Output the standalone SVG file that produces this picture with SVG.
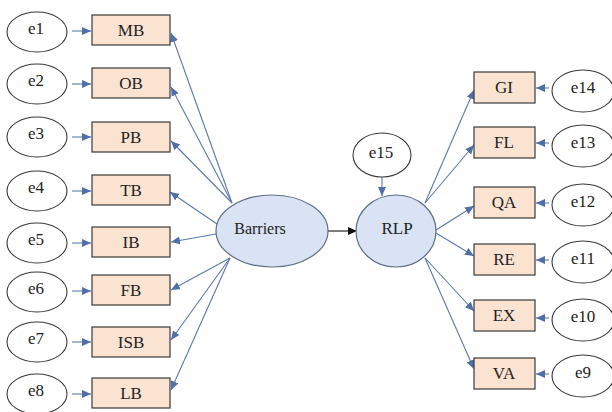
<svg xmlns="http://www.w3.org/2000/svg" width="612" height="412" viewBox="0 0 612 412">
<style>
.box{fill:#fbe3d2;stroke:#3a3a3a;stroke-width:1.2}
.err{fill:#ffffff;stroke:#3a3a3a;stroke-width:1.1}
.lat{fill:#d9e3f3;stroke:#5f6f86;stroke-width:1.2}
.t{font-family:"Liberation Serif","Times New Roman",serif;font-size:17px;fill:#222;text-anchor:middle;dominant-baseline:central}
.te{font-family:"Liberation Serif","Times New Roman",serif;font-size:17px;fill:#222;text-anchor:middle;dominant-baseline:central}
.c{stroke:#5b79ad;stroke-width:1.1;fill:none;marker-end:url(#ab)}
.k{stroke:#111;stroke-width:1.1;fill:none;marker-end:url(#ak)}
</style>
<defs>
<marker id="ab" markerUnits="userSpaceOnUse" markerWidth="10" markerHeight="8" refX="9" refY="4" orient="auto"><path d="M0,0 L9,4 L0,8 Z" fill="#4f6fa8"/></marker>
<marker id="ak" markerUnits="userSpaceOnUse" markerWidth="10" markerHeight="8" refX="9" refY="4" orient="auto"><path d="M0,0 L9,4 L0,8 Z" fill="#111"/></marker>
</defs>
<rect width="612" height="412" fill="#ffffff"/>
<g id="connectors">
<line class="c" x1="72" y1="31" x2="91" y2="31"/>
<line class="c" x1="72" y1="84" x2="91" y2="84"/>
<line class="c" x1="72" y1="137" x2="91" y2="137"/>
<line class="c" x1="72" y1="191" x2="91" y2="191"/>
<line class="c" x1="72" y1="243" x2="91" y2="243"/>
<line class="c" x1="72" y1="291" x2="91" y2="291"/>
<line class="c" x1="72" y1="342" x2="91" y2="342"/>
<line class="c" x1="72" y1="394" x2="91" y2="394"/>
<line class="c" x1="549" y1="88" x2="536" y2="88"/>
<line class="c" x1="549" y1="143" x2="536" y2="143"/>
<line class="c" x1="549" y1="203" x2="536" y2="203"/>
<line class="c" x1="549" y1="260" x2="536" y2="260"/>
<line class="c" x1="549" y1="318" x2="536" y2="318"/>
<line class="c" x1="549" y1="374" x2="536" y2="374"/>
<line class="c" x1="232" y1="203" x2="171" y2="33"/>
<line class="c" x1="232" y1="203" x2="171" y2="87"/>
<line class="c" x1="232" y1="203" x2="171" y2="141"/>
<line class="c" x1="217" y1="224" x2="170" y2="192"/>
<line class="c" x1="216" y1="234" x2="171" y2="242"/>
<line class="c" x1="230" y1="258" x2="171" y2="290"/>
<line class="c" x1="230" y1="258" x2="171" y2="340"/>
<line class="c" x1="230" y1="258" x2="171" y2="390"/>
<line class="c" x1="425" y1="203" x2="474" y2="90"/>
<line class="c" x1="425" y1="203" x2="474" y2="145"/>
<line class="c" x1="436" y1="230" x2="474" y2="206"/>
<line class="c" x1="436" y1="233" x2="474" y2="256"/>
<line class="c" x1="425" y1="258" x2="474" y2="311"/>
<line class="c" x1="425" y1="258" x2="474" y2="369"/>
<line class="c" x1="382" y1="177" x2="382" y2="196"/>
<line class="k" x1="328" y1="231" x2="357" y2="231"/>
</g>
<g id="e1"><ellipse class="err" cx="37" cy="32" rx="30" ry="20"/><text class="te" x="36" y="28">e1</text></g>
<g id="e2"><ellipse class="err" cx="37" cy="84" rx="30" ry="20"/><text class="te" x="36" y="80">e2</text></g>
<g id="e3"><ellipse class="err" cx="37" cy="137" rx="30" ry="20"/><text class="te" x="36" y="133">e3</text></g>
<g id="e4"><ellipse class="err" cx="37" cy="191" rx="30" ry="20"/><text class="te" x="36" y="187">e4</text></g>
<g id="e5"><ellipse class="err" cx="37" cy="243" rx="30" ry="20"/><text class="te" x="36" y="239">e5</text></g>
<g id="e6"><ellipse class="err" cx="37" cy="292" rx="30" ry="20"/><text class="te" x="36" y="288">e6</text></g>
<g id="e7"><ellipse class="err" cx="37" cy="342" rx="30" ry="20"/><text class="te" x="36" y="338">e7</text></g>
<g id="e8"><ellipse class="err" cx="37" cy="394" rx="30" ry="20"/><text class="te" x="36" y="390">e8</text></g>
<g id="MB"><rect class="box" x="92" y="15" width="78" height="30"/><text class="t" x="131" y="30">MB</text></g>
<g id="OB"><rect class="box" x="92" y="68" width="78" height="30"/><text class="t" x="131" y="83">OB</text></g>
<g id="PB"><rect class="box" x="92" y="122" width="78" height="30"/><text class="t" x="131" y="137">PB</text></g>
<g id="TB"><rect class="box" x="92" y="175" width="78" height="30"/><text class="t" x="131" y="190">TB</text></g>
<g id="IB"><rect class="box" x="92" y="227" width="78" height="30"/><text class="t" x="131" y="242">IB</text></g>
<g id="FB"><rect class="box" x="92" y="275" width="78" height="30"/><text class="t" x="131" y="290">FB</text></g>
<g id="ISB"><rect class="box" x="92" y="327" width="78" height="30"/><text class="t" x="131" y="342">ISB</text></g>
<g id="LB"><rect class="box" x="92" y="378" width="78" height="30"/><text class="t" x="131" y="393">LB</text></g>
<g id="Barriers"><ellipse class="lat" cx="272" cy="231" rx="56" ry="36"/><text class="te" x="260" y="228" style="font-size:16px">Barriers</text></g>
<g id="RLP"><ellipse class="lat" cx="396" cy="231" rx="40" ry="36"/><text class="t" x="397" y="228">RLP</text></g>
<g id="e15"><ellipse class="err" cx="382" cy="155" rx="29" ry="22"/><text class="te" x="381" y="152">e15</text></g>
<g id="GI"><rect class="box" x="474" y="72" width="61" height="31"/><text class="t" x="504" y="87">GI</text></g>
<g id="FL"><rect class="box" x="474" y="127" width="61" height="31"/><text class="t" x="504" y="142">FL</text></g>
<g id="QA"><rect class="box" x="474" y="187" width="61" height="31"/><text class="t" x="504" y="202">QA</text></g>
<g id="RE"><rect class="box" x="474" y="244" width="61" height="31"/><text class="t" x="504" y="259">RE</text></g>
<g id="EX"><rect class="box" x="474" y="300" width="61" height="31"/><text class="t" x="504" y="315">EX</text></g>
<g id="VA"><rect class="box" x="474" y="358" width="61" height="31"/><text class="t" x="504" y="373">VA</text></g>
<g id="e14"><ellipse class="err" cx="583" cy="91" rx="31" ry="21"/><text class="te" x="583" y="87">e14</text></g>
<g id="e13"><ellipse class="err" cx="583" cy="146" rx="31" ry="21"/><text class="te" x="583" y="142">e13</text></g>
<g id="e12"><ellipse class="err" cx="583" cy="205" rx="31" ry="21"/><text class="te" x="583" y="201">e12</text></g>
<g id="e11"><ellipse class="err" cx="583" cy="262" rx="31" ry="21"/><text class="te" x="583" y="258">e11</text></g>
<g id="e10"><ellipse class="err" cx="583" cy="320" rx="31" ry="21"/><text class="te" x="583" y="316">e10</text></g>
<g id="e9"><ellipse class="err" cx="583" cy="376" rx="31" ry="21"/><text class="te" x="583" y="372">e9</text></g>
</svg>
